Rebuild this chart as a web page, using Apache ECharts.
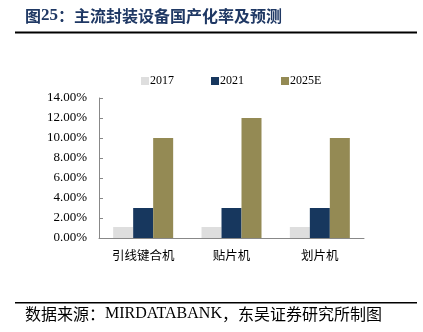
<!DOCTYPE html>
<html><head><meta charset="utf-8">
<script src="https://cdn.jsdelivr.net/npm/echarts@6/dist/echarts.min.js"></script>
<style>html,body{margin:0;padding:0;background:#fff}#c{width:423px;height:332px}</style>
</head><body><div id="c"></div>
<script>
const categories = ['引线键合机', '贴片机', '划片机'];
const s2017 = [1.1, 1.1, 1.1];
const s2021 = [3.0, 3.0, 3.0];
const s2025E = [10.0, 12.0, 10.0];
const seriesNames = ['2017', '2021', '2025E'];
const colors = ['#dedede', '#17375e', '#948a54'];

const chart = echarts.init(document.getElementById('c'));
const serif = '"Liberation Serif","Times New Roman",serif';
const cjk = '"Noto Sans CJK SC",sans-serif';
chart.setOption({
  animation: false,
  graphic: [
    {type: 'text', left: 25, top: 7, style: {
      rich: {
        a: {fontFamily: cjk, fontSize: 16, fontWeight: 'bold', fill: '#1f3864'},
        b: {fontFamily: serif, fontSize: 17, fontWeight: 'bold', fill: '#1f3864'}
      },
      text: '{a|图}{b|25}{a|：主流封装设备国产化率及预测}'
    }},
    {type: 'rect', shape: {x: 15, y: 31.5, width: 402, height: 2}, style: {fill: '#000'}},
    {type: 'rect', shape: {x: 15, y: 302, width: 402, height: 1.5}, style: {fill: '#000'}},
    {type: 'text', left: 25, top: 306, style: {
      rich: {
        a: {fontFamily: cjk, fontSize: 16, fill: '#000'},
        b: {fontFamily: serif, fontSize: 16, fill: '#000'}
      },
      text: '{a|数据来源：}{b|MIRDATABANK}{a|，东吴证券研究所制图}'
    }}
  ],
  legend: {
    left: 136, top: 70, itemWidth: 8, itemHeight: 8, itemGap: 37,
    icon: 'rect',
    textStyle: {fontFamily: serif, fontSize: 12, color: '#000', padding: [0, 0, 0, -4]},
    data: seriesNames
  },
  grid: {left: 99, right: 59, top: 98, bottom: 94},
  xAxis: {
    type: 'category', data: categories,
    axisLine: {lineStyle: {color: '#888'}},
    axisTick: {inside: true, length: 4, lineStyle: {color: '#888'}},
    axisLabel: {fontFamily: cjk, fontSize: 12.5, color: '#000', margin: 11}
  },
  yAxis: {
    type: 'value', min: 0, max: 14, interval: 2,
    splitLine: {show: false},
    axisLine: {show: true, lineStyle: {color: '#888'}},
    axisTick: {show: true, inside: true, length: 4, lineStyle: {color: '#888'}},
    axisLabel: {fontFamily: serif, fontSize: 13, color: '#000', margin: 12,
      formatter: v => v.toFixed(2) + '%'}
  },
  series: [s2017, s2021, s2025E].map((d, i) => ({
    name: seriesNames[i], type: 'bar', data: d, barWidth: 20, barGap: '0%',
    itemStyle: {color: colors[i]}
  }))
});
</script></body></html>
